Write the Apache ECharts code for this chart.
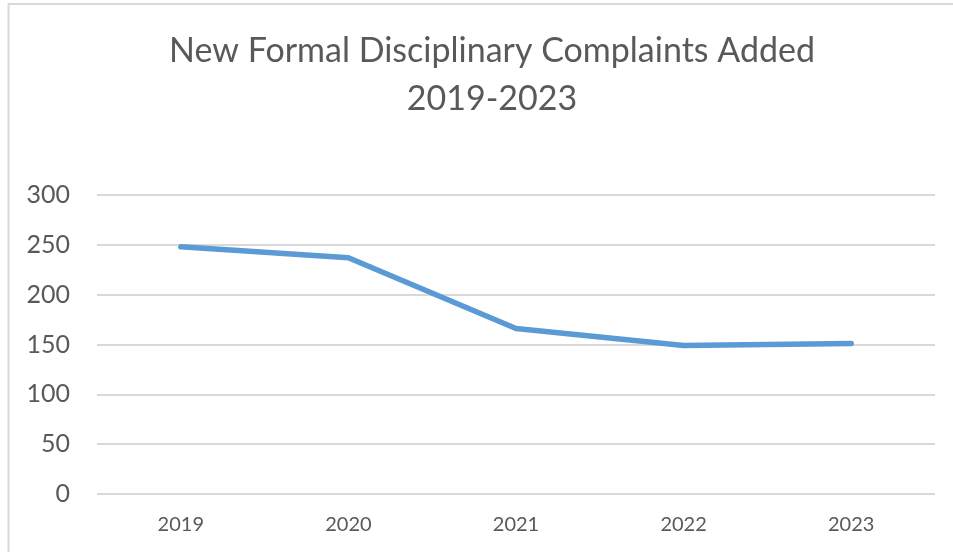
<!DOCTYPE html>
<html><head><meta charset="utf-8">
<script src="https://cdn.jsdelivr.net/npm/echarts@6/dist/echarts.min.js"></script>
<style>html,body{margin:0;padding:0;background:#fff}#c{width:953px;height:552px}</style>
</head><body><div id="c"></div>
<script>
const categories = ['2019','2020','2021','2022','2023'];
const complaints = [248, 237, 166, 149, 151];
const yTicks = [0, 50, 100, 150, 200, 250, 300];

const chart = echarts.init(document.getElementById('c'), null, {renderer:'canvas'});
chart.setOption({
  backgroundColor:'#fff',
  animation:false,
  title:{
    text:'New Formal Disciplinary Complaints Added\n2019-2023',
    left:487, top:22, textAlign:'center',
    textStyle:{fontFamily:'Lato', fontWeight:'normal', fontSize:34, color:'#595959', lineHeight:48}
  },
  graphic:[
    {type:'line', shape:{x1:8.5,y1:3,x2:8.5,y2:552}, style:{stroke:'#d9d9d9', lineWidth:2}, silent:true},
    {type:'line', shape:{x1:8,y1:4,x2:953,y2:4}, style:{stroke:'#d9d9d9', lineWidth:2}, silent:true}
  ],
  grid:{left:97, right:18, top:195, bottom:58, containLabel:false},
  xAxis:{
    type:'category', data:categories, boundaryGap:true,
    axisLine:{show:false}, axisTick:{show:false},
    axisLabel:{fontFamily:'Lato', fontSize:20, color:'#595959', margin:21}
  },
  yAxis:{
    type:'value', min:yTicks[0], max:yTicks[yTicks.length-1], interval:50,
    axisLine:{show:false}, axisTick:{show:false},
    splitLine:{lineStyle:{color:'#d9d9d9', width:2}},
    axisLabel:{fontFamily:'Lato', fontSize:25, color:'#595959', margin:27}
  },
  series:[{
    type:'line', data:complaints, symbol:'none',
    lineStyle:{color:'#5b9bd5', width:5.5, cap:'round', join:'round'}
  }]
});
</script></body></html>
